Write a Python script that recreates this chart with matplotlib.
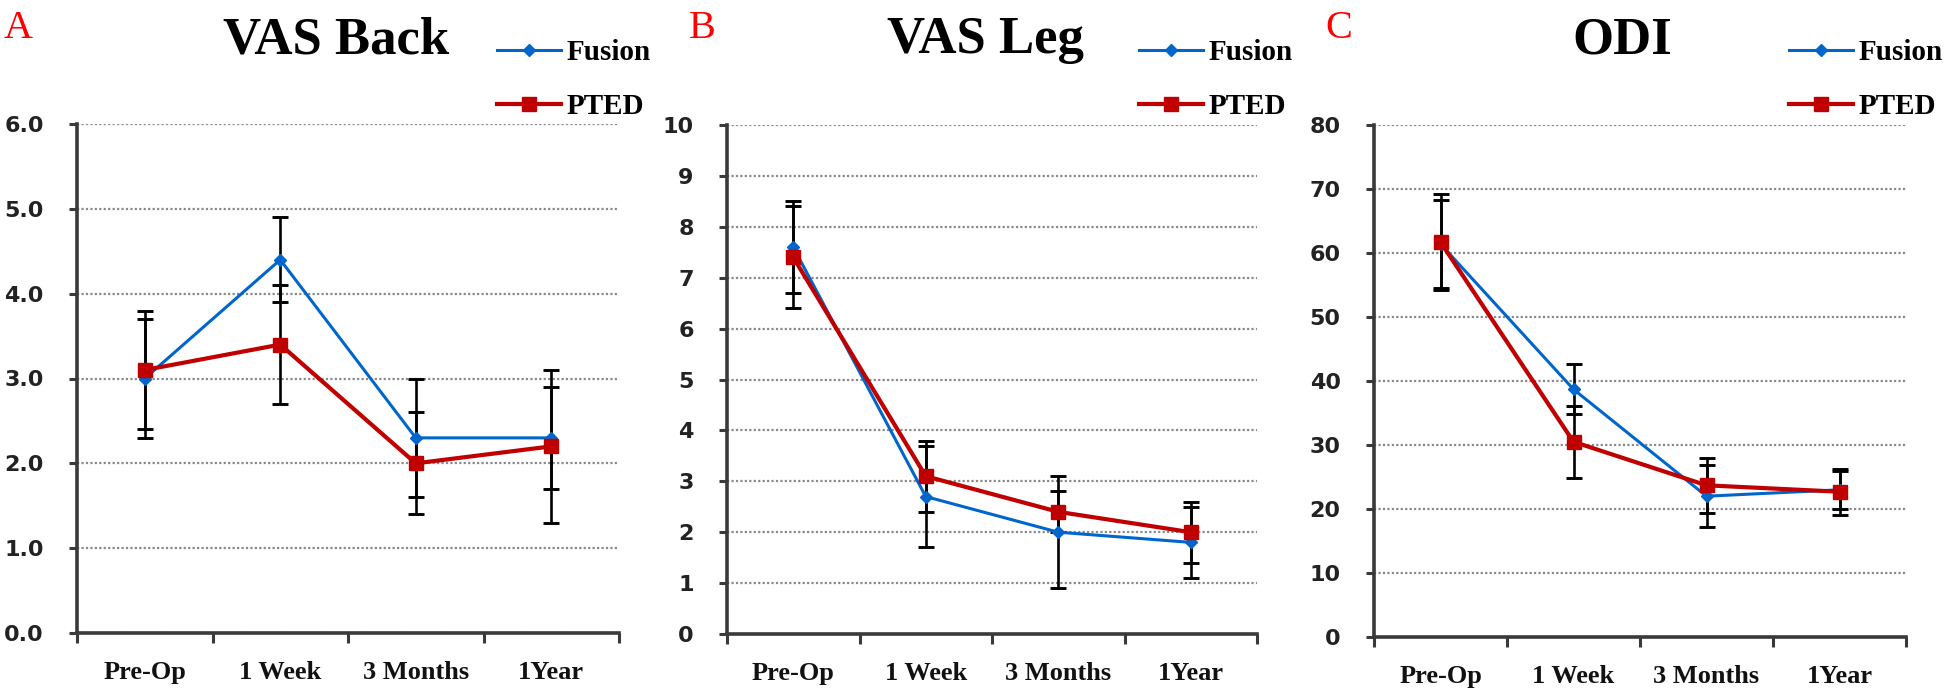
import matplotlib
matplotlib.use('Agg')
import matplotlib.pyplot as plt
from matplotlib.ticker import FixedLocator, MultipleLocator, FormatStrFormatter, NullFormatter

# ---------------- data ----------------
categories = ['Pre-Op', '1 Week', '3 Months', '1Year']
series_names = ['Fusion', 'PTED']

vas_back_fusion = [3.0, 4.4, 2.3, 2.3]
vas_back_fusion_sd = [0.7, 0.5, 0.7, 0.6]
vas_back_pted = [3.1, 3.4, 2.0, 2.2]
vas_back_pted_sd = [0.7, 0.7, 0.6, 0.9]

vas_leg_fusion = [7.6, 2.7, 2.0, 1.8]
vas_leg_fusion_sd = [0.9, 1.0, 1.1, 0.7]
vas_leg_pted = [7.4, 3.1, 2.4, 2.0]
vas_leg_pted_sd = [1.0, 0.7, 0.4, 0.6]

odi_fusion = [61.4, 38.7, 22.0, 23.0]
odi_fusion_sd = [6.9, 3.9, 4.8, 3.0]
odi_pted = [61.7, 30.5, 23.7, 22.7]
odi_pted_sd = [7.5, 5.6, 4.3, 3.6]

titles = ['VAS Back', 'VAS Leg', 'ODI']
panel_letters = ['A', 'B', 'C']
y_max = [6, 10, 80]
y_step = [1, 1, 10]
y_fmt = ['%.1f', '%d', '%d']

# ---------------- style / layout ----------------
W, H = 1944, 694
DPI = 100
BLUE = '#0066CC'
RED = '#C00000'
AXC = '#3a3a3a'
SERIF = ['Liberation Serif', 'DejaVu Serif']
SANS = ['DejaVu Sans']

# axes boxes in pixels: left, right, top, bottom
boxes = [(77, 619, 124, 633), (727, 1257, 125, 634), (1374, 1906, 125, 637)]
title_x = [336, 985, 1622]
letter_x = [4, 689, 1325]
legend_x = [497, 1139, 1789]

fig = plt.figure(figsize=(W / DPI, H / DPI), dpi=DPI)
fig.patch.set_facecolor('white')

panels = [
    (vas_back_fusion, vas_back_fusion_sd, vas_back_pted, vas_back_pted_sd),
    (vas_leg_fusion, vas_leg_fusion_sd, vas_leg_pted, vas_leg_pted_sd),
    (odi_fusion, odi_fusion_sd, odi_pted, odi_pted_sd),
]

x = list(range(1, len(categories) + 1))

for i, (fus, fus_sd, pt, pt_sd) in enumerate(panels):
    l, r, t, b = boxes[i]
    ax = fig.add_axes([l / W, (H - b) / H, (r - l) / W, (b - t) / H])
    ax.set_xlim(0.5, len(categories) + 0.5)
    ax.set_ylim(0, y_max[i])

    # error bars
    ax.errorbar(x, fus, yerr=fus_sd, fmt='none', ecolor='black', elinewidth=1.9,
                capsize=5.5, capthick=2.1, zorder=3)
    ax.errorbar(x, pt, yerr=pt_sd, fmt='none', ecolor='black', elinewidth=1.9,
                capsize=5.5, capthick=2.1, zorder=3)
    # lines
    h1, = ax.plot(x, fus, color=BLUE, lw=2.2, marker='D', markersize=6,
                  markerfacecolor=BLUE, markeredgecolor=BLUE, zorder=4, label=series_names[0])
    h2, = ax.plot(x, pt, color=RED, lw=3.0, marker='s', markersize=10.5,
                  markerfacecolor=RED, markeredgecolor=RED, zorder=5, label=series_names[1])

    # spines
    for s in ['top', 'right']:
        ax.spines[s].set_visible(False)
    for s in ['left', 'bottom']:
        ax.spines[s].set_color(AXC)
        ax.spines[s].set_linewidth(2.6)

    # y axis
    ax.yaxis.set_major_locator(MultipleLocator(y_step[i]))
    ax.yaxis.set_major_formatter(FormatStrFormatter(y_fmt[i]))
    ax.tick_params(axis='y', direction='out', length=6, width=2.2, color=AXC,
                   pad=18, labelsize=16, labelcolor='#222222')
    for lab in ax.get_yticklabels():
        lab.set_fontfamily(SANS)
        lab.set_fontweight('bold')

    # x axis: ticks at category boundaries, labels at centers
    ax.xaxis.set_major_locator(FixedLocator([k + 0.5 for k in range(0, len(categories) + 1)]))
    ax.xaxis.set_major_formatter(NullFormatter())
    ax.xaxis.set_minor_locator(FixedLocator(x))
    ax.set_xticklabels(categories, minor=True)
    ax.tick_params(axis='x', which='major', direction='out', length=7, width=2.2, color=AXC)
    ax.tick_params(axis='x', which='minor', length=0, pad=20, labelsize=19, labelcolor='#111111')
    for lab in ax.get_xticklabels(minor=True):
        lab.set_fontfamily(SERIF)
        lab.set_fontweight('bold')

    # grid
    ax.yaxis.grid(True, linestyle=(0, (1, 1)), color='#8a8a8a', linewidth=1.6)
    ax.set_axisbelow(True)

    # title, letter
    fig.text(title_x[i] / W, 1 - 53 / H, titles[i], ha='center', va='baseline',
             fontsize=38, fontweight='bold', family=SERIF, color='black')
    fig.text(letter_x[i] / W, 1 - 38 / H, panel_letters[i], ha='left', va='baseline',
             fontsize=29, family=SERIF, color='#ff0000')

    # legend
    leg = fig.legend(handles=[h1, h2], loc='upper left',
                     bbox_to_anchor=(legend_x[i] / W, 1 - 39 / H),
                     frameon=False, borderpad=0, borderaxespad=0,
                     handlelength=2.2, handletextpad=0.2, labelspacing=0.92,
                     prop={'family': SERIF, 'weight': 'bold', 'size': 21})

fig.savefig('out.png', dpi=DPI, facecolor='white')
